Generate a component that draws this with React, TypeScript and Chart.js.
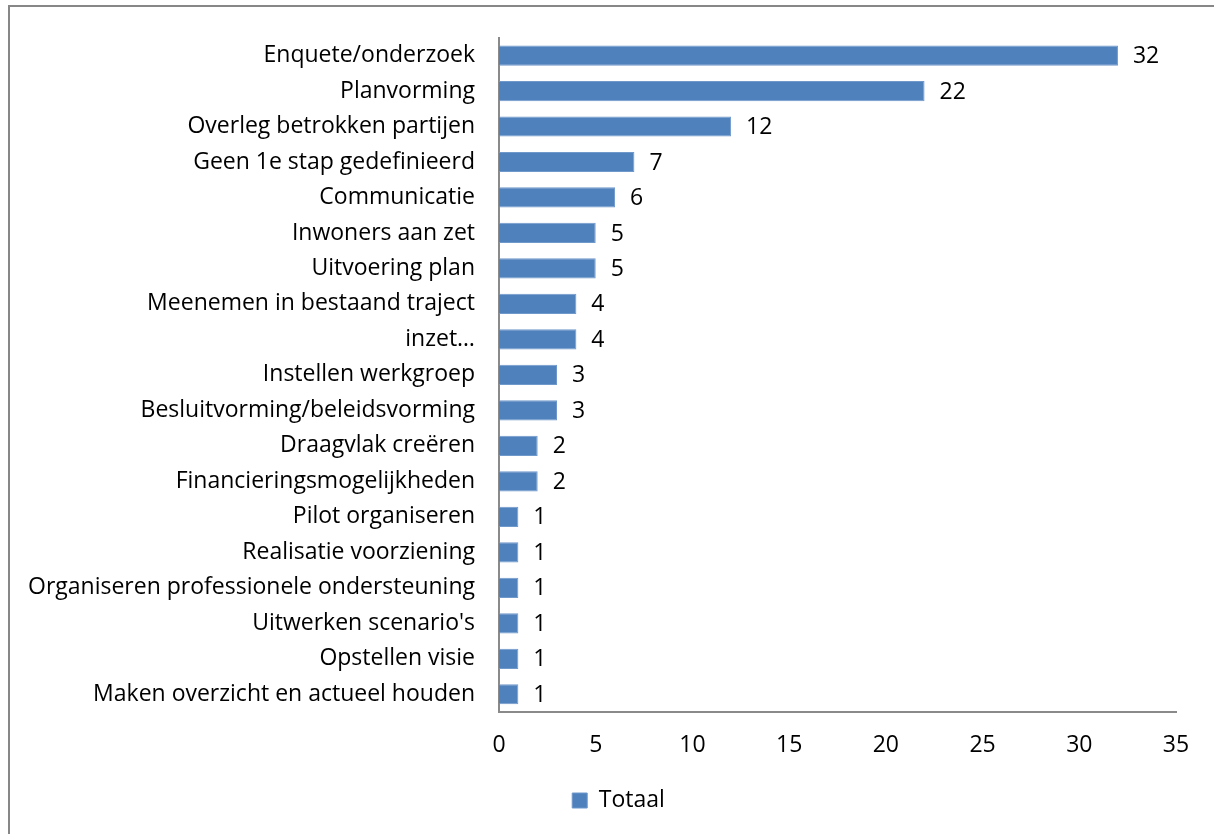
import React, { useEffect, useRef } from "react";
import { Chart, registerables } from "chart.js";

Chart.register(...registerables);

const categories: string[] = [
  "Enquete/onderzoek",
  "Planvorming",
  "Overleg betrokken partijen",
  "Geen 1e stap gedefinieerd",
  "Communicatie",
  "Inwoners aan zet",
  "Uitvoering plan",
  "Meenemen in bestaand traject",
  "inzet…",
  "Instellen werkgroep",
  "Besluitvorming/beleidsvorming",
  "Draagvlak creëren",
  "Financieringsmogelijkheden",
  "Pilot organiseren",
  "Realisatie voorziening",
  "Organiseren professionele ondersteuning",
  "Uitwerken scenario's",
  "Opstellen visie",
  "Maken overzicht en actueel houden",
];

const totaal: number[] = [32, 22, 12, 7, 6, 5, 5, 4, 4, 3, 3, 2, 2, 1, 1, 1, 1, 1, 1];

const seriesName = "Totaal";
const xMin = 0;
const xMax = 35;
const xStep = 5;

const FONT = "'Open Sans', 'Liberation Sans', sans-serif";
const FS = 23;

const valueLabels = {
  id: "valueLabels",
  afterLayout(chart: any) {
    const lg = chart.legend;
    if (lg) {
      lg.left += 20;
      lg.right += 20;
    }
  },
  afterDatasetsDraw(chart: any) {
    const ctx = chart.ctx;
    const meta = chart.getDatasetMeta(0);
    ctx.save();
    ctx.font = `${FS}px ${FONT}`;
    ctx.fillStyle = "#000";
    ctx.textAlign = "left";
    ctx.textBaseline = "middle";
    meta.data.forEach((bar: any, i: number) => {
      ctx.fillText(String(chart.data.datasets[0].data[i]), bar.x + 15, bar.y + 1);
    });
    ctx.restore();
  },
};

export default function App() {
  const ref = useRef<HTMLCanvasElement | null>(null);

  useEffect(() => {
    if (!ref.current) return;
    const chart = new Chart(ref.current, {
      type: "bar",
      data: {
        labels: categories,
        datasets: [
          {
            label: seriesName,
            data: totaal,
            backgroundColor: "#4F81BD",
            borderColor: "#6F98CB",
            borderWidth: 1,
            barPercentage: 0.57,
            categoryPercentage: 1,
          },
        ],
      },
      options: {
        indexAxis: "y",
        animation: false,
        responsive: false,
        maintainAspectRatio: false,
        layout: { padding: { left: 21, right: 38, top: 35, bottom: 12 } },
        plugins: {
          legend: {
            position: "bottom",
            labels: {
              boxWidth: 15,
              boxHeight: 15,
              padding: 10,
              color: "#000",
              font: { family: FONT, size: FS },
            },
          },
          tooltip: { enabled: false },
        },
        scales: {
          x: {
            min: xMin,
            max: xMax,
            ticks: {
              stepSize: xStep,
              color: "#000",
              font: { family: FONT, size: FS },
              padding: 20,
            },
            grid: { display: false, drawTicks: false },
            border: { display: true, color: "#8a8a8a", width: 2 },
            afterFit: (scale: any) => {
              scale.height = 67;
            },
          },
          y: {
            ticks: {
              color: "#000",
              font: { family: FONT, size: FS },
              padding: 24,
              autoSkip: false,
            },
            grid: { display: false, drawTicks: false },
            border: { display: true, color: "#8a8a8a", width: 2 },
            afterFit: (scale: any) => {
              scale.width = 478;
            },
          },
        },
      },
      plugins: [valueLabels],
    });
    return () => chart.destroy();
  }, []);

  return (
    <div
      style={{
        position: "fixed",
        left: 0,
        top: 0,
        width: 1214,
        height: 834,
        background: "#fff",
        overflow: "hidden",
      }}
    >
      <div
        style={{
          position: "absolute",
          left: 8,
          top: 5,
          width: 1240,
          height: 860,
          border: "2px solid #878787",
          boxSizing: "border-box",
        }}
      />
      <canvas
        ref={ref}
        width={1214}
        height={834}
        style={{ position: "absolute", left: 0, top: 0, width: 1214, height: 834 }}
      />
    </div>
  );
}
